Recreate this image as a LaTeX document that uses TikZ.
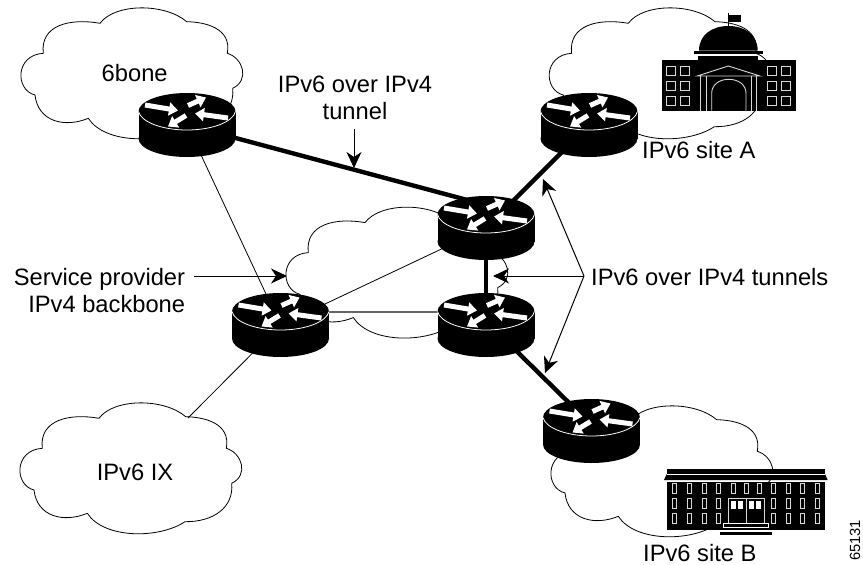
\documentclass[tikz,border=0pt]{standalone}
\usepackage{fontspec}
\setmainfont{Liberation Sans}
\usetikzlibrary{arrows.meta}
\tikzset{
  label/.style={inner sep=0pt,font=\fontsize{23.7}{27}\selectfont},
  thinlink/.style={line width=0.8pt},
  tunnel/.style={line width=4.4pt},
  pointer/.style={line width=1pt,-{Stealth[length=16pt,width=15pt,inset=5pt]}},
  winline/.style={white!85!black,line width=0.9pt},
  cloud/.pic={
    \draw[line width=0.8pt] (43.3,53.3) .. controls (40,25) and (70,18) .. (100,23.3)
      .. controls (115,3) and (165,3) .. (186.7,21.7)
      .. controls (205,22) and (232,28) .. (227.3,53.3)
      .. controls (243,58) and (250,80) .. (232.7,88.3)
      .. controls (235,112) and (215,127) .. (186,126.7)
      .. controls (160,144) and (105,144) .. (88.3,118.3)
      .. controls (65,128) and (38,122) .. (35,95)
      .. controls (15,90) and (15,55) .. (43.3,53.3) -- cycle;
  },
  router/.pic={
    \fill (0,-13.5) ellipse [x radius=48.5,y radius=18.5];
    \fill (0,13.5) ellipse [x radius=48.5,y radius=18.5];
    \fill (-48.5,-13.5) rectangle (48.5,13.5);
    \draw[white,line width=0.8pt] (-48.5,-13.5) .. controls (-46,-3) and (-25,5) .. (0,5) .. controls (25,5) and (46,-3) .. (48.5,-13.5);
    \foreach \a/\b in {{-42,-20}/{-9,-14.5},{1,-19.5}/{19,-27.5},{-1,-9.5}/{-19,1.5},{41,-7}/{8,-11.5}}
      \draw[white,line width=5pt,-{Triangle[length=9pt,width=13pt]}] (\a) -- (\b);
  }
}
\begin{document}
\begin{tikzpicture}[x=1pt,y=-1pt]
\useasboundingbox (0,0) rectangle (863,565);
% clouds
\pic at (0,0) {cloud};
\pic at (-1,395) {cloud};
\pic at (528.3,0) {cloud};
\pic at (530,398) {cloud};
\pic at (265,199.3) {cloud};
% routers and links
\coordinate (rsix) at (187,125);
\coordinate (rleft) at (280.5,325);
\coordinate (rup) at (486,228);
\coordinate (ruptop) at (486,205);
\coordinate (rlow) at (486,325);
\coordinate (rlowtop) at (486,312);
\coordinate (rsitea) at (589,125);
\coordinate (rsiteb) at (591.5,431);
\coordinate (ixedge) at (188,418);
\draw[thinlink] (rsix)--(rleft);
\draw[thinlink] (rleft)--(ixedge);
\draw[thinlink] (rleft)--(rup);
\draw[line width=1.6pt,black!60] (rlowtop -| rleft)--(rlowtop);
\draw[tunnel] (rsix)--(ruptop);
\draw[tunnel] (rup)--(rsitea);
\draw[tunnel] (rup)--(rlow);
\draw[tunnel] ([yshift=4pt]rlow)--([yshift=6pt]rsiteb);
\foreach \r in {rsix,rleft,rup,rlow,rsitea,rsiteb} \pic at (\r) {router};
% site A building
\fill (699,50.5) .. controls (699,35) and (712,26) .. (728.3,26) .. controls (745,26) and (757.7,35) .. (757.7,50.5) -- cycle;
\fill (694.3,50.7) rectangle (763,54);
\fill (698,55.7) rectangle (758,60);
\fill (661.7,60) rectangle (795.7,110.7);
\draw[line width=0.9pt] (728.3,26)--(728.3,13);
\fill (728.3,15) rectangle (740.7,21.7);
\foreach \x in {666.7,680,767.7,781} \foreach \y in {66.7,81.7,96.7}
  \draw[winline] (\x,\y) rectangle ++(9,8.5);
\draw[winline] (697.3,76)--(728.3,66)--(760,76)--cycle;
\foreach \x in {700.7,706,751,756.7} \draw[winline] (\x,76)--(\x,110.7);
\draw[winline] (711.7,110.7)--(711.7,93) .. controls (711.7,85) and (719,79.3) .. (728.8,79.3) .. controls (738.5,79.3) and (746,85) .. (746,93)--(746,110.7);
% site B building
\fill (666.7,469) rectangle (825,474);
\fill (666.7,474)--(825,474)--(827.7,480)--(664,480)--cycle;
\fill (667.3,482) rectangle (825,530.3);
\draw[white,line width=0.5pt] (666.7,474.2)--(825,474.2);
\foreach \x in {674.3,689.7,704.7,718.7,733,746,759.3,773,788.3,802.3,817.3}
  \draw[winline] (\x-2,483.3) rectangle ++(4,10.5);
\foreach \x in {674.3,689.7,704.7,718.7,773,788.3,802.3,817.3} {
  \draw[winline] (\x-2,498.3) rectangle ++(4,10.5);
  \draw[winline] (\x-2,513.3) rectangle ++(4,10.5);
}
\draw[winline] (728.3,523.3)--(728.3,498.3)--(764.3,498.3)--(764.3,523.3);
\draw[winline] (746.3,498.3)--(746.3,523.3);
\foreach \x in {731,737.7,749,755.7} \fill[white] (\x,501) rectangle ++(5.2,8.3);
\fill[white] (723.3,523.3) rectangle (769,530.3);
\fill (724.3,524.3) rectangle (768,527);
\fill (721.7,528) rectangle (770.7,530.3);
\fill[white] (720,530.3) rectangle (772.3,531.7);
\fill (720,531.7) rectangle (772.3,535);
% labels
\node[label,anchor=base] (sixbone) at (134.7,81.7) {6bone};
\node[label,align=center] (tunnellabel) at (355,98) {IPv6 over IPv4\\tunnel};
\node[label,align=right] (providerlabel) at (99.5,291) {Service provider\\IPv4 backbone};
\node[label,anchor=base] (ixlabel) at (135,480) {IPv6 IX};
\node[label,anchor=base west] (sitealabel) at (642,158) {IPv6 site A};
\node[label,anchor=base west] (siteblabel) at (643,561) {IPv6 site B};
\node[label,anchor=base west] (tunnelslabel) at (591,285) {IPv6 over IPv4 tunnels};
\node[inner sep=0pt,font=\fontsize{14.7}{16}\selectfont,rotate=90,anchor=base west] (figid) at (860,561) {65131};
% pointers
\coordinate (tunnelstart) at (354,129);
\coordinate (tunneltip) at (354,168);
\coordinate (providerstart) at (194,276);
\coordinate (providertip) at (287,276);
\coordinate (tunnelsjoin) at (584,276);
\coordinate (tipa) at (543,179);
\coordinate (tipm) at (493,276);
\coordinate (tipb) at (545,373);
\draw[pointer] (tunnelstart)--(tunneltip);
\draw[pointer] (providerstart)--(providertip);
\draw[pointer] (tunnelsjoin)--(tipa);
\draw[pointer] (tunnelsjoin)--(tipm);
\draw[pointer] (tunnelsjoin)--(tipb);
\end{tikzpicture}
\end{document}
